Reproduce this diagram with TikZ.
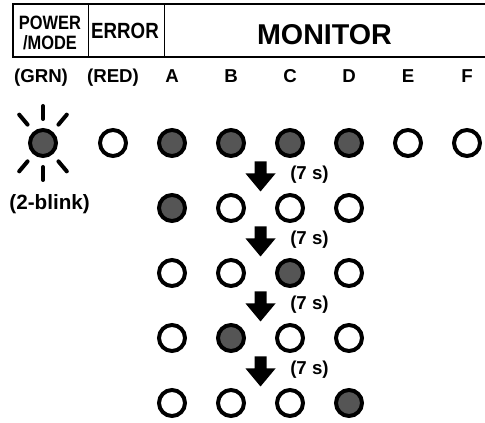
\documentclass[tikz,border=0pt]{standalone}
\usepackage{fontspec}
\setmainfont{Liberation Sans}
\newfontfamily\narrowfont[FakeStretch=0.85]{Liberation Sans}
\usetikzlibrary{calc,positioning}
\definecolor{ledfill}{RGB}{85,85,85}
\begin{document}
\begin{tikzpicture}[
		x=0.75pt, y=-0.75pt,
		node distance=48.75pt,
		lbl/.style={
			inner sep=0,
			font=\bfseries\fontsize{14}{16}\selectfont,
			text height=10pt,
			text depth=3pt,
		},
		led/.style={
			circle,
			draw,
			line width=3pt,
			inner sep=0,
			minimum size=19.5pt,
			fill=white,
		},
		ledon/.style={
			led,
			fill=ledfill,
		},
		ray/.style={line width=3pt, line cap=round},
		pointer/.style={fill=black},
	]
	\useasboundingbox (0,0) rectangle (485,423);

	\draw[line width=1.5pt] (485,4.5) -- (12.5,4.5) -- (12.5,57) -- (485,57);
	\draw[line width=0.75pt] (88,4.5) -- (88,57);
	\draw[line width=0.75pt] (164,4.5) -- (164,57);

	\node[align=center, inner sep=0, font=\narrowfont\bfseries\fontsize{14.5}{15.4}\selectfont] (pm) at (50,33) {POWER\\/MODE};
	\node[anchor=base, inner sep=0, font=\narrowfont\bfseries\fontsize{16.5}{18}\selectfont] (er) at (125,38.5) {ERROR};
	\node[anchor=base, inner sep=0, font=\bfseries\fontsize{21.5}{24}\selectfont] (mon) at (324.5,45) {MONITOR};

	\node[lbl] (lg) at (41,78) {(GRN)};
	\node[lbl] (lr) at (113,78) {(RED)};
	\node[lbl] (la) at (172,78) {A};
	\node[lbl, right of=la, node distance=44.25pt] (lb) {B};
	\node[lbl, right of=lb, node distance=44.25pt] (lc) {C};
	\node[lbl, right of=lc, node distance=44.25pt] (ld) {D};
	\node[lbl, right of=ld, node distance=44.25pt] (le) {E};
	\node[lbl, right of=le, node distance=44.25pt] (lf) {F};

	% first step: all monitor lamps up
	\node[ledon, below of=lg, xshift=1.5pt] (g1) {};
	\node[led, below of=lr] (r1) {};
	\node[ledon, below of=la] (a1) {};
	\node[ledon, below of=lb] (b1) {};
	\node[ledon, below of=lc] (c1) {};
	\node[ledon, below of=ld] (d1) {};
	\node[led, below of=le] (e1) {};
	\node[led, below of=lf] (f1) {};

	\node[ledon, below of=a1] (a2) {};
	\node[led, below of=b1] (b2) {};
	\node[led, below of=c1] (c2) {};
	\node[led, below of=d1] (d2) {};

	\node[led, below of=a2] (a3) {};
	\node[led, below of=b2] (b3) {};
	\node[ledon, below of=c2] (c3) {};
	\node[led, below of=d2] (d3) {};

	\node[led, below of=a3] (a4) {};
	\node[ledon, below of=b3] (b4) {};
	\node[led, below of=c3] (c4) {};
	\node[led, below of=d3] (d4) {};

	\node[led, below of=a4] (a5) {};
	\node[led, below of=b4] (b5) {};
	\node[led, below of=c4] (c5) {};
	\node[ledon, below of=d4] (d5) {};

	% blinking power lamp
	\draw[ray] (g1.center) ++(50:24) -- ++(50:13);
	\draw[ray] (g1.center) ++(90:24) -- ++(90:13);
	\draw[ray] (g1.center) ++(130:24) -- ++(130:13);
	\draw[ray] (g1.center) ++(230:24) -- ++(230:13);
	\draw[ray] (g1.center) ++(270:24) -- ++(270:13);
	\draw[ray] (g1.center) ++(310:24) -- ++(310:13);
	\node[lbl, below of=g1, node distance=46.5pt, xshift=5pt, font=\bfseries\fontsize{15.5}{18}\selectfont] (bl) {(2-blink)};

	\coordinate (m1) at ($(b1)!.5!(c2)$);
	\coordinate (m2) at ($(b2)!.5!(c3)$);
	\coordinate (m3) at ($(b3)!.5!(c4)$);
	\coordinate (m4) at ($(b4)!.5!(c5)$);

	\fill[pointer, shift={(m1)}] (-6,-14) -- (6,-14) -- (6,-2) -- (15,-2) -- (0,16) -- (-15,-2) -- (-6,-2) -- cycle;
	\fill[pointer, shift={(m2)}] (-6,-14) -- (6,-14) -- (6,-2) -- (15,-2) -- (0,16) -- (-15,-2) -- (-6,-2) -- cycle;
	\fill[pointer, shift={(m3)}] (-6,-14) -- (6,-14) -- (6,-2) -- (15,-2) -- (0,16) -- (-15,-2) -- (-6,-2) -- cycle;
	\fill[pointer, shift={(m4)}] (-6,-14) -- (6,-14) -- (6,-2) -- (15,-2) -- (0,16) -- (-15,-2) -- (-6,-2) -- cycle;

	\node[lbl, anchor=west] (s1) at ($(m1)+(29.5,-1)$) {(7 s)};
	\node[lbl, anchor=west] (s2) at ($(m2)+(29.5,-1)$) {(7 s)};
	\node[lbl, anchor=west] (s3) at ($(m3)+(29.5,-1)$) {(7 s)};
	\node[lbl, anchor=west] (s4) at ($(m4)+(29.5,-1)$) {(7 s)};

\end{tikzpicture}
\end{document}
